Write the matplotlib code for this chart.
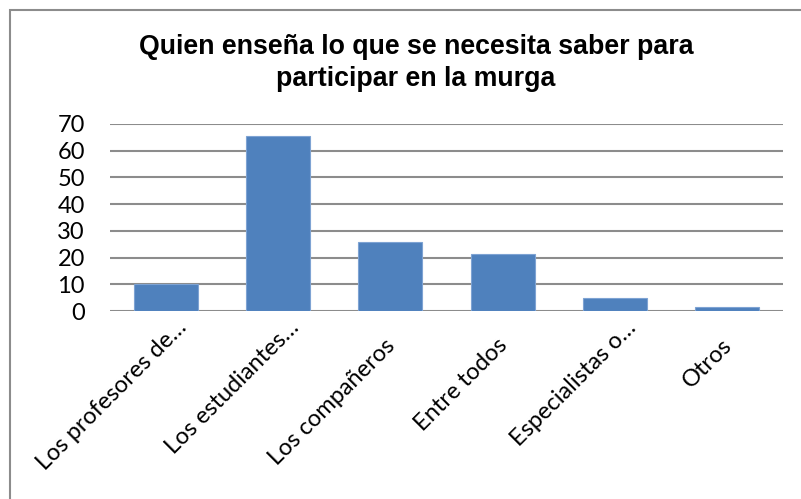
import matplotlib.pyplot as plt
from matplotlib.patches import Rectangle
from matplotlib import transforms

categorias = ['Los profesores de…', 'Los estudiantes…', 'Los compañeros',
              'Entre todos', 'Especialistas o…', 'Otros']
valores = [10, 65.5, 26, 21.3, 4.8, 1.4]
yticks = [0, 10, 20, 30, 40, 50, 60, 70]

fig = plt.figure(figsize=(8.01, 4.99), dpi=100)
W, H = 801, 499

# chart border (cropped at right/bottom)
fig.patches.append(Rectangle((10 / W, -0.1), 1.2, 1 - 10 / H + 0.1,
                             transform=fig.transFigure, fill=False,
                             edgecolor='#8c8c8c', linewidth=1.5))

ax = fig.add_axes([110 / W, 1 - 311 / H, 673 / W, 187 / H])
x = range(len(categorias))
ax.bar(x, valores, width=0.57, color='#4f81bd', edgecolor='#7ea3d3',
       linewidth=0.8, zorder=3)
ax.set_xlim(-0.5, len(categorias) - 0.5)
ax.set_ylim(0, 70)
ax.set_yticks(yticks)
ax.yaxis.grid(True, color='#8c8c8c', linewidth=1.5, zorder=0)
for s in ax.spines.values():
    s.set_visible(False)
ax.tick_params(length=0)
ax.tick_params(axis='y', pad=18, labelsize=17)
for t in ax.get_yticklabels():
    t.set_fontfamily('Lato')

ax.set_xticks(list(x))
ax.set_xticklabels(categorias, rotation=45, ha='right', va='top',
                   rotation_mode='anchor', fontsize=17, family='Lato')
# truncated labels sit a bit further along their direction
for t in ax.get_xticklabels():
    if t.get_text().endswith('…'):
        dx, dy = 10, -1
    else:
        dx, dy = -6, -19
    off = transforms.ScaledTranslation(dx / 100, dy / 100, fig.dpi_scale_trans)
    t.set_transform(t.get_transform() + off)

fig.text(416 / W, 1 - 63 / H,
         'Quien enseña lo que se necesita saber para\nparticipar en la murga',
         ha='center', va='center', fontsize=19.3, fontweight='bold',
         family='Liberation Sans', linespacing=1.25)

fig.savefig('out.png', dpi=100)
